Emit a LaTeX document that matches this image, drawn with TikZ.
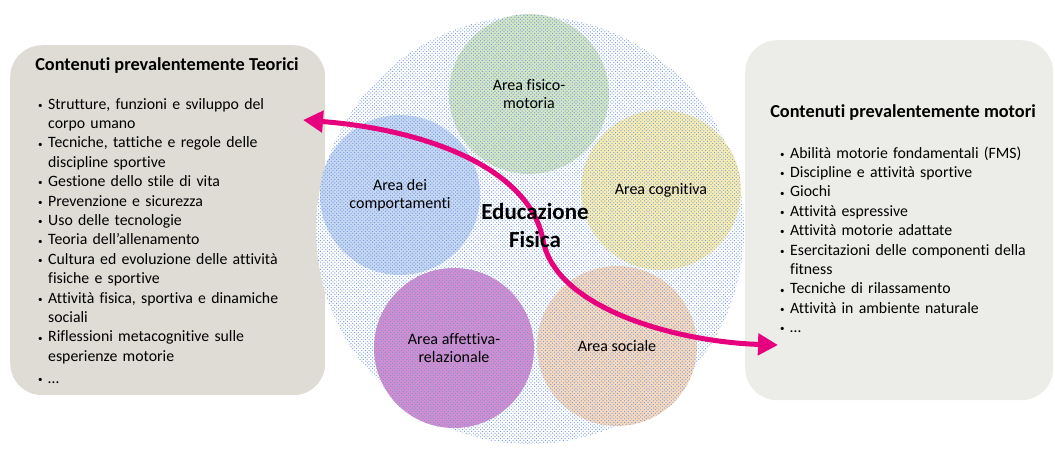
\documentclass[tikz,border=0pt]{standalone}
\usepackage{fontspec}
\setmainfont{Carlito}[Ligatures=NoCommon]
\usetikzlibrary{arrows.meta,patterns}
\definecolor{leftbox}{RGB}{222,220,213}
\definecolor{rightbox}{RGB}{236,236,233}
\definecolor{dotblue}{RGB}{105,145,222}
\definecolor{cgreen}{RGB}{212,230,196}
\definecolor{cyellow}{RGB}{249,238,178}
\definecolor{cblue}{RGB}{198,216,242}
\definecolor{cpurple}{RGB}{212,142,206}
\definecolor{cpeach}{RGB}{249,218,188}
\definecolor{magarrow}{RGB}{230,0,126}
\pgfdeclarepatternformonly{bigdots}{\pgfpoint{-1pt}{-1pt}}{\pgfpoint{4.5pt}{4.5pt}}{\pgfpoint{3.6pt}{3.6pt}}{%
  \pgfpathcircle{\pgfpoint{0pt}{0pt}}{0.6pt}%
  \pgfpathcircle{\pgfpoint{1.8pt}{1.8pt}}{0.6pt}%
  \pgfusepath{fill}}
\newcommand\lbul{\makebox[10pt][l]{\raisebox{0.1ex}{\small\textbullet}}}
\newcommand\lind{\hspace*{10pt}}
\begin{document}
\begin{tikzpicture}[x=1pt,y=-1pt,
  box/.style={rounded corners=32pt, anchor=north west, inner sep=0pt},
  area/.style={circle, minimum size=160pt, inner sep=0pt, align=center,
    font=\fontsize{16}{18}\selectfont,
    postaction={pattern=bigdots, pattern color=dotblue}},
  listtext/.style={anchor=base west, inner sep=0pt, text width=300pt, align=left,
    font=\fontsize{15.8}{19.4}\selectfont},
  titletext/.style={inner sep=0pt, font=\bfseries\fontsize{18.3}{21}\selectfont},
  pinkarrow/.style={line width=5pt, draw=magarrow,
    {Triangle[length=20pt,width=21pt]}-{Triangle[length=20pt,width=21pt]}}
]
\useasboundingbox (0,0) rectangle (1055,453);

% side boxes
\node[box, fill=leftbox, minimum width=315pt, minimum height=350pt] (lbox) at (10,45) {};
\node[box, fill=rightbox, minimum width=308pt, minimum height=360pt] (rbox) at (745,40) {};

\node[titletext] (ltitle) at (167,66) {Contenuti prevalentemente Teorici};
\node[listtext] (llist) at (38,109) {%
\lbul Strutture, funzioni e sviluppo del\\
\lind corpo umano\\
\lbul Tecniche, tattiche e regole delle\\
\lind discipline sportive\\
\lbul Gestione dello stile di vita\\
\lbul Prevenzione e sicurezza\\
\lbul Uso delle tecnologie\\
\lbul Teoria dell’allenamento\\
\lbul Cultura ed evoluzione delle attività\\
\lind fisiche e sportive\\
\lbul Attività fisica, sportiva e dinamiche\\
\lind sociali\\
\lbul Riflessioni metacognitive sulle\\
\lind esperienze motorie\\[2.5pt]
\lbul …};

\node[titletext] (rtitle) at (903,113) {Contenuti prevalentemente motori};
\node[listtext, text width=265pt] (rlist) at (780,158) {%
\lbul Abilità motorie fondamentali (FMS)\\
\lbul Discipline e attività sportive\\
\lbul Giochi\\
\lbul Attività espressive\\
\lbul Attività motorie adattate\\
\lbul Esercitazioni delle componenti della\\
\lind fitness\\
\lbul Tecniche di rilassamento\\
\lbul Attività in ambiente naturale\\
\lbul …};

% big dotted circle
\node[circle, minimum size=428pt, inner sep=0pt, fill=white,
  postaction={pattern=bigdots, pattern color=dotblue}] (ef) at (530,230) {};

% area circles
\node[area, fill=cgreen]  (fis) at (529,94)  {Area fisico-\\motoria};
\node[area, fill=cyellow] (cog) at (661,190) {Area cognitiva};
\node[area, fill=cblue]   (com) at (400,195) {Area dei\\comportamenti};
\node[area, fill=cpurple] (aff) at (454,348) {Area affettiva-\\relazionale};
\node[area, fill=cpeach]  (soc) at (617,346) {Area sociale};

% arrow
\coordinate (lt) at (303,120);
\coordinate (mid) at (543,240);
\coordinate (rt) at (778,345);
\draw[pinkarrow] (lt) .. controls (430,130) and (530,170) .. (mid)
  .. controls (556,310) and (680,342) .. (rt);

\node[align=center, inner sep=0pt, font=\bfseries\fontsize{23}{28}\selectfont] (eftext) at (535,226) {Educazione\\Fisica};
\end{tikzpicture}
\end{document}
